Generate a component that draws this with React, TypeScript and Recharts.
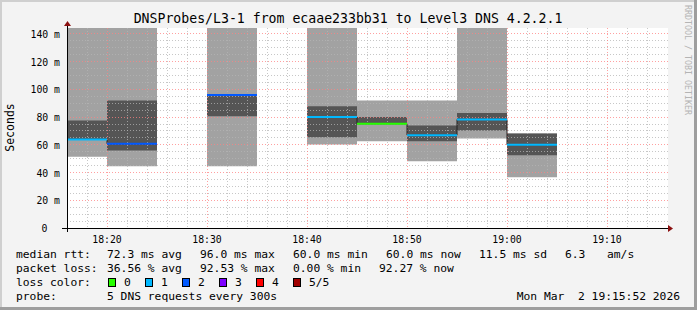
import { ComposedChart, Area, Line, XAxis, YAxis, CartesianGrid } from 'recharts'

// 5-minute buckets, start time in minutes after 18:00
const BUCKET_START = [15, 20, 30, 40, 45, 50, 55, 60]
const LIGHT_LO = [51.4, 44.6, 44.6, 60.3, 62.6, 48.2, 64.6, 36.7]
const LIGHT_HI = [150, 150, 150, 150, 92.0, 92.0, 150, 68.2]
const DARK_LO = [63.5, 55.9, 80.7, 65.5, 75.2, 62.6, 70.4, 52.5]
const DARK_HI = [77.6, 92.0, 96.0, 87.9, 80.0, 74.0, 82.9, 68.2]
const MEDIAN = [63.9, 60.8, 96.0, 80.0, 75.2, 67.0, 78.3, 60.0]
const LOSS = [1, 2, 2, 1, 0, 1, 1, 1]
const STEP = 5

const LOSS_COLORS = ['#26ff00', '#00b8ff', '#0059ff', '#7e00ff', '#ff0000', '#a00000']
const LOSS_LABELS = ['0', '1', '2', '3', '4', '5/5']

const X_TICKS = [20, 30, 40, 50, 60, 70]
const X_LABELS = ['18:20', '18:30', '18:40', '18:50', '19:00', '19:10']
const Y_TICKS = [0, 20, 40, 60, 80, 100, 120, 140]
const MINOR_Y = [5, 10, 15, 25, 30, 35, 45, 50, 55, 65, 70, 75, 85, 90, 95, 105, 110, 115, 125, 130, 135]
const MINOR_X = [18, 22, 24, 26, 28, 32, 34, 36, 38, 42, 44, 46, 48, 52, 54, 56, 58, 62, 64, 66, 68, 72, 74]

const RTT_STATS = ['72.3 ms avg', '96.0 ms max', '60.0 ms min', '60.0 ms now', '11.5 ms sd']
const LOSS_STATS = ['36.56 % avg', '92.53 % max', '0.00 % min', '92.27 % now']

const rows: any[] = []
BUCKET_START.forEach((start, i) => {
  const end = start + STEP
  const r: any = {
    light: [LIGHT_LO[i], LIGHT_HI[i]],
    dark: [DARK_LO[i], DARK_HI[i]],
    conn: MEDIAN[i],
    [`m${LOSS[i]}`]: MEDIAN[i],
  }
  rows.push({ t: start, ...r }, { t: end, ...r })
  const joins = BUCKET_START[i + 1] === end
  rows.push({ t: end, conn: joins ? MEDIAN[i + 1] : null })
})

const MONO = '"DejaVu Sans Mono", monospace'

const XTick = ({ x, y, payload }: any) => (
  <text x={x} y={y} dy={7} textAnchor="middle" fontFamily={MONO} fontSize={9.8} fill="#000">
    {X_LABELS[X_TICKS.indexOf(payload.value)]}
  </text>
)

const YTick = ({ x, y, payload }: any) => (
  <text x={payload.value === 0 ? x - 11.5 : x + 1} y={y} dy={4} textAnchor="end" fontFamily={MONO} fontSize={9.8} fill="#000">
    {payload.value === 0 ? '0' : `${payload.value} m`}
  </text>
)

const GRID_PROPS: any = { strokeDasharray: '1 2', fill: 'none', shapeRendering: 'crispEdges', zIndex: 150 }

export default function App() {
  return (
    <div style={{ position: 'absolute', left: 0, top: 0, width: 697, height: 310, background: '#f3f3f3' }}>
      <svg width={697} height={310} style={{ position: 'absolute', left: 0, top: 0 }}>
        <rect x={67} y={28} width={601} height={200} fill="#fff" />
      </svg>
      <div style={{ position: 'absolute', left: 0, top: 0 }}>
        <ComposedChart width={697} height={310} data={rows} margin={{ top: 28, right: 29, bottom: 62, left: 0 }}>
          <XAxis
            type="number"
            dataKey="t"
            domain={[16, 76.1]}
            allowDataOverflow
            ticks={X_TICKS}
            interval={0}
            tick={<XTick />}
            tickLine={false}
            axisLine={false}
            height={20}
          />
          <YAxis
            type="number"
            domain={[0, 144.3]}
            allowDataOverflow
            ticks={Y_TICKS}
            interval={0}
            tick={<YTick />}
            tickLine={false}
            axisLine={false}
            width={67}
          />
          <Area type="linear" dataKey="light" fill="#a2a2a2" fillOpacity={1} stroke="none" connectNulls={false} isAnimationActive={false} />
          <Area type="linear" dataKey="dark" fill="#555555" fillOpacity={1} stroke="none" connectNulls={false} isAnimationActive={false} />
          <CartesianGrid horizontalValues={MINOR_Y} verticalValues={MINOR_X} stroke="#b4b4b4" strokeOpacity={0.75} {...GRID_PROPS} />
          <CartesianGrid
            horizontalValues={[20, 40, 60, 80, 100, 120, 140]}
            verticalValues={X_TICKS}
            stroke="#ff8080"
            strokeOpacity={0.75}
            {...GRID_PROPS}
          />
          <Line type="linear" dataKey="conn" stroke="#222" strokeWidth={1} dot={false} activeDot={false} connectNulls={false} isAnimationActive={false} />
          {LOSS_COLORS.map((c, k) => (
            <Line
              key={k}
              type="linear"
              dataKey={`m${k}`}
              stroke={c}
              strokeWidth={2}
              dot={false}
              activeDot={false}
              connectNulls={false}
              isAnimationActive={false}
            />
          ))}
        </ComposedChart>
      </div>
      <svg width={697} height={310} style={{ position: 'absolute', left: 0, top: 0, pointerEvents: 'none' }}>
        {/* frame */}
        <line x1={0} y1={308.5} x2={697} y2={308.5} stroke="#9e9e9e" strokeWidth={3} />
        <line x1={695.5} y1={0} x2={695.5} y2={310} stroke="#9e9e9e" strokeWidth={3} />
        <line x1={0} y1={1} x2={694} y2={1} stroke="#cfcfcf" strokeWidth={2} />
        <line x1={1} y1={0} x2={1} y2={307} stroke="#cfcfcf" strokeWidth={2} />
        {/* axes */}
        <line x1={62} y1={228.5} x2={669} y2={228.5} stroke="#000" strokeWidth={1} />
        <line x1={67.5} y1={232} x2={67.5} y2={25} stroke="#000" strokeWidth={1} />
        <polygon points="668,225 673,228.5 668,232" fill="#8b1010" />
        <polygon points="64,26 67.5,21 71,26" fill="#8b1010" />
        <text x={348} y={23} textAnchor="middle" fontFamily={MONO} fontSize={13.2} fill="#000">
          DNSProbes/L3-1 from ecaae233bb31 to Level3 DNS 4.2.2.1
        </text>
        <text x={14} y={127.5} transform="rotate(-90 14 127.5)" textAnchor="middle" fontFamily={MONO} fontSize={11.5} fill="#000">
          Seconds
        </text>
        <text x={5} y={-684.5} transform="rotate(90)" fontFamily={MONO} fontSize={8.3} fill="#b4b4b4">
          RRDTOOL / TOBI OETIKER
        </text>
        <g fontFamily={MONO} fontSize={11.3} fill="#000">
          <text x={16} y={258}>median rtt:</text>
          {RTT_STATS.map((s, i) => (
            <text key={s} x={[107, 200, 293, 386, 479][i]} y={258}>{s}</text>
          ))}
          <text x={565} y={258}>6.3</text>
          <text x={607} y={258}>am/s</text>
          <text x={16} y={272}>packet loss:</text>
          {LOSS_STATS.map((s, i) => (
            <text key={s} x={[107, 200, 293, 379][i]} y={272}>{s}</text>
          ))}
          <text x={16} y={286}>loss color:</text>
          {LOSS_COLORS.map((c, k) => (
            <g key={c}>
              <rect x={108.5 + k * 37} y={278.5} width={7} height={8} fill={c} stroke="#000" strokeWidth={1} />
              <text x={124 + k * 37} y={286}>{LOSS_LABELS[k]}</text>
            </g>
          ))}
          <text x={16} y={300}>probe:</text>
          <text x={107} y={300}>5 DNS requests every 300s</text>
          <text x={680} y={300} textAnchor="end" xmlSpace="preserve" style={{ whiteSpace: 'pre' }}>
            {'Mon Mar  2 19:15:52 2026'}
          </text>
        </g>
      </svg>
    </div>
  )
}
